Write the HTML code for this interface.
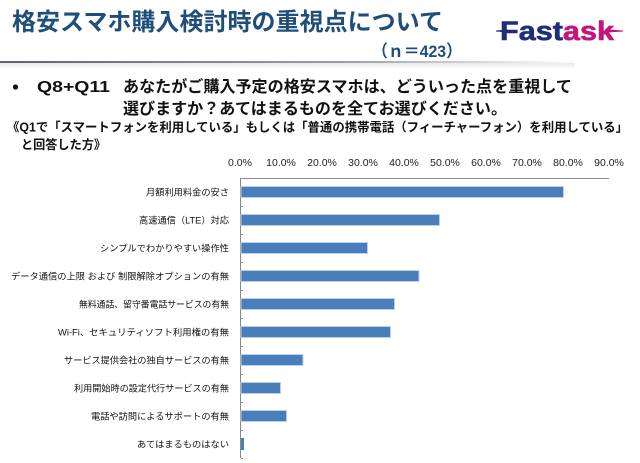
<!DOCTYPE html>
<html><head><meta charset="utf-8">
<style>
html,body{margin:0;padding:0;background:#fff;}
svg{display:block;}
text{font-family:"Liberation Sans","Noto Sans CJK JP",sans-serif;}
</style></head>
<body>
<svg width="640" height="463" viewBox="0 0 640 463" xmlns="http://www.w3.org/2000/svg">
<defs>
<linearGradient id="hl" x1="0" y1="0" x2="1" y2="0">
<stop offset="0" stop-color="#5f656c"/>
<stop offset="0.6" stop-color="#9aa0a6"/>
<stop offset="1" stop-color="#ffffff"/>
</linearGradient>
<linearGradient id="sh" x1="0" y1="0" x2="0" y2="1">
<stop offset="0" stop-color="#d8dadc"/>
<stop offset="1" stop-color="#ffffff"/>
</linearGradient>
</defs>
<rect width="640" height="463" fill="#ffffff"/>

<!-- Header -->
<text x="12" y="30" font-size="24" font-weight="bold" fill="#1f4e79" textLength="431" lengthAdjust="spacingAndGlyphs">格安スマホ購入検討時の重視点について</text>
<text x="372" y="57" font-size="17" font-weight="bold" fill="#1f4e79" textLength="90" lengthAdjust="spacingAndGlyphs">（ｎ＝423）</text>

<!-- Logo -->
<polygon points="496,30.5 508,29.5 508,32.5 496,31.5" fill="#1f2d7a"/>
<text x="500" y="40" font-size="27" font-weight="bold" textLength="114" lengthAdjust="spacingAndGlyphs" stroke-width="0.6"><tspan fill="#1f2d7a" stroke="#1f2d7a">Fast</tspan><tspan fill="#c4157c" stroke="#c4157c">ask</tspan></text>
<polygon points="608,29.5 623,30.5 623,31.5 608,32.5" fill="#c4157c"/>

<!-- Header rule -->
<rect x="0" y="63" width="575" height="6" fill="url(#sh)" opacity="0.6"/>
<rect x="0" y="61" width="575" height="2" fill="url(#hl)"/>

<!-- Question -->
<circle cx="15.5" cy="87" r="2.6" fill="#111"/>
<text x="37" y="92" font-size="16" font-weight="bold" fill="#111" textLength="73" lengthAdjust="spacingAndGlyphs">Q8+Q11</text>
<text x="123" y="92" font-size="16" font-weight="bold" fill="#111" textLength="449" lengthAdjust="spacingAndGlyphs">あなたがご購入予定の格安スマホは、どういった点を重視して</text>
<text x="123" y="114" font-size="16" font-weight="bold" fill="#111" textLength="384" lengthAdjust="spacingAndGlyphs">選びますか？あてはまるものを全てお選びください。</text>
<text x="7" y="131.5" font-size="12.5" font-weight="bold" fill="#111" textLength="621" lengthAdjust="spacingAndGlyphs">《Q1で「スマートフォンを利用している」もしくは「普通の携帯電話（フィーチャーフォン）を利用している」</text>
<text x="21" y="149" font-size="12.5" font-weight="bold" fill="#111" textLength="85" lengthAdjust="spacingAndGlyphs">と回答した方》</text>

<!-- Tick labels -->
<g font-size="10.5" fill="#222" text-anchor="middle">
<text x="240" y="166">0.0%</text>
<text x="281" y="166">10.0%</text>
<text x="322" y="166">20.0%</text>
<text x="363" y="166">30.0%</text>
<text x="404" y="166">40.0%</text>
<text x="445" y="166">50.0%</text>
<text x="486" y="166">60.0%</text>
<text x="527" y="166">70.0%</text>
<text x="568" y="166">80.0%</text>
<text x="609" y="166">90.0%</text>
</g>

<!-- Axes -->
<line x1="240" y1="178.5" x2="609" y2="178.5" stroke="#8a8a8a" stroke-width="1"/>
<line x1="240.5" y1="178" x2="240.5" y2="458" stroke="#8a8a8a" stroke-width="1"/>
<g stroke="#9a9a9a" stroke-width="1">
<line x1="241" y1="206.5" x2="243" y2="206.5"/>
<line x1="241" y1="234.5" x2="243" y2="234.5"/>
<line x1="241" y1="262.5" x2="243" y2="262.5"/>
<line x1="241" y1="290.5" x2="243" y2="290.5"/>
<line x1="241" y1="318.5" x2="243" y2="318.5"/>
<line x1="241" y1="346.5" x2="243" y2="346.5"/>
<line x1="241" y1="374.5" x2="243" y2="374.5"/>
<line x1="241" y1="402.5" x2="243" y2="402.5"/>
<line x1="241" y1="430.5" x2="243" y2="430.5"/>
<line x1="241" y1="458.5" x2="243" y2="458.5"/>
</g>

<!-- Bars -->
<g fill="#4a7ebb" stroke="#b9d1ec" stroke-width="1">
<rect x="241" y="186.5" width="322.5" height="11"/>
<rect x="241" y="214.5" width="198.5" height="11"/>
<rect x="241" y="242.5" width="126.5" height="11"/>
<rect x="241" y="270.5" width="178" height="11"/>
<rect x="241" y="298.5" width="153.5" height="11"/>
<rect x="241" y="326.5" width="149.5" height="11"/>
<rect x="241" y="354.5" width="62" height="11"/>
<rect x="241" y="382.5" width="39.5" height="11"/>
<rect x="241" y="410.5" width="45.5" height="11"/>
</g>
<rect x="241" y="438" width="3" height="12" fill="#4a7ebb"/>

<!-- Category labels -->
<g font-size="9.2" fill="#111" text-anchor="end">
<text x="229" y="195.5" textLength="83" lengthAdjust="spacingAndGlyphs">月額利用料金の安さ</text>
<text x="229" y="223.5" textLength="90" lengthAdjust="spacingAndGlyphs">高速通信（LTE）対応</text>
<text x="229" y="251.5" textLength="129" lengthAdjust="spacingAndGlyphs">シンプルでわかりやすい操作性</text>
<text x="229" y="279.5" textLength="218" lengthAdjust="spacingAndGlyphs">データ通信の上限 および 制限解除オプションの有無</text>
<text x="229" y="307.5" textLength="150" lengthAdjust="spacingAndGlyphs">無料通話、留守番電話サービスの有無</text>
<text x="229" y="335.5" textLength="171" lengthAdjust="spacingAndGlyphs">Wi-Fi、セキュリティソフト利用権の有無</text>
<text x="229" y="363.5" textLength="165" lengthAdjust="spacingAndGlyphs">サービス提供会社の独自サービスの有無</text>
<text x="229" y="391.5" textLength="155" lengthAdjust="spacingAndGlyphs">利用開始時の設定代行サービスの有無</text>
<text x="229" y="419.5" textLength="138" lengthAdjust="spacingAndGlyphs">電話や訪問によるサポートの有無</text>
<text x="229" y="447.5" textLength="92" lengthAdjust="spacingAndGlyphs">あてはまるものはない</text>
</g>
</svg>
</body></html>
